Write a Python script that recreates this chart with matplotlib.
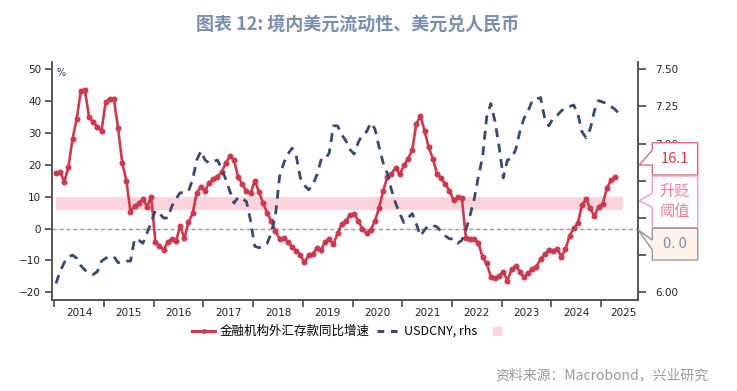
import numpy as np
import matplotlib
matplotlib.use("Agg")
import matplotlib.pyplot as plt
from matplotlib.patches import Polygon
from matplotlib.lines import Line2D

# 金融机构外汇存款同比增速 (%), 月度, 2014-01 起
fx_deposit_yoy = [
    17.6, 17.8, 14.7, 19.2, 28.2, 34.3, 43.2, 43.4, 34.9, 33.5, 31.8, 30.6,
    39.8, 40.8, 40.6, 31.5, 20.7, 15.1, 5.3, 7.1, 7.9, 9.3, 6.9, 10.0,
    -4.1, -5.5, -6.7, -4.1, -3.4, -3.9, 0.9, -3.0, 2.0, 4.8, 11.3, 13.1,
    11.9, 14.4, 15.6, 16.3, 17.8, 20.5, 22.8, 21.5, 16.1, 14.0, 11.7, 11.1,
    15.0, 11.6, 8.1, 4.8, 2.4, -0.6, -3.4, -3.0, -4.1, -5.7, -6.9, -8.3,
    -10.6, -8.3, -8.1, -6.0, -6.7, -4.1, -3.4, -4.9, -1.5, 1.4, 2.5, 4.3,
    4.6, 2.5, -0.2, -1.5, -0.4, 2.4, 6.4, 11.9, 16.1, 17.3, 19.0, 17.0,
    19.9, 21.9, 24.6, 32.8, 35.4, 30.7, 25.5, 22.0, 17.3, 15.8, 14.0, 11.9,
    9.0, 9.8, 9.5, -3.0, -3.2, -3.4, -4.4, -9.0, -10.9, -15.1, -15.6, -14.9,
    -13.5, -16.3, -12.8, -11.7, -13.5, -15.3, -13.8, -12.8, -11.9, -9.6, -8.0, -6.7,
    -6.9, -6.3, -8.8, -6.5, -2.3, 0.1, 1.7, 7.4, 9.2, 6.4, 3.9, 6.9,
    7.7, 12.6, 15.2, 16.1,
]

# USDCNY, 月度, 2014-01 起 (右轴)
usdcny = [
    6.06, 6.14, 6.20, 6.24, 6.25, 6.23, 6.18, 6.15, 6.13, 6.12, 6.14, 6.21,
    6.23, 6.24, 6.24, 6.20, 6.20, 6.21, 6.21, 6.36, 6.35, 6.33, 6.40, 6.47,
    6.55, 6.53, 6.50, 6.50, 6.58, 6.63, 6.67, 6.67, 6.68, 6.76, 6.89, 6.95,
    6.89, 6.87, 6.88, 6.89, 6.83, 6.76, 6.68, 6.60, 6.64, 6.63, 6.61, 6.48,
    6.31, 6.30, 6.31, 6.33, 6.40, 6.52, 6.78, 6.87, 6.93, 6.97, 6.92, 6.77,
    6.72, 6.69, 6.72, 6.79, 6.89, 6.89, 6.94, 7.12, 7.12, 7.06, 7.02, 6.96,
    6.93, 7.01, 7.06, 7.08, 7.14, 7.10, 6.98, 6.87, 6.80, 6.69, 6.60, 6.53,
    6.47, 6.50, 6.53, 6.46, 6.38, 6.42, 6.45, 6.45, 6.44, 6.41, 6.38, 6.36,
    6.36, 6.33, 6.35, 6.42, 6.52, 6.63, 6.78, 6.91, 7.18, 7.27, 7.15, 6.98,
    6.77, 6.89, 6.90, 6.96, 7.08, 7.17, 7.22, 7.29, 7.30, 7.31, 7.17, 7.12,
    7.17, 7.19, 7.22, 7.24, 7.25, 7.26, 7.20, 7.08, 7.04, 7.10, 7.22, 7.29,
    7.28, 7.27, 7.25, 7.23, 7.20, 7.19,
]

years = list(range(2014, 2026))
band_low, band_high = 6, 10   # 升贬阈值区间
right_ticks = [6.00, 6.25, 6.50, 6.75, 7.00, 7.25, 7.50]
right_labels = ['6.00', '', '', '', '7.00', '7.25', '7.50']  # 中间几个被标签框挡住

red = '#cc3a50'
navy = '#3b4a6b'
pink = '#fdd3dc'
cjk = ['Noto Sans CJK SC', 'DejaVu Sans']

W, H = 737, 391
fig = plt.figure(figsize=(W / 100, H / 100), dpi=100)
ax = fig.add_axes([52.3 / W, 1 - 300 / H, (638.3 - 52.3) / W, (300 - 62) / H])
ax2 = ax.twinx()

x_red = 2014 + (np.arange(len(fx_deposit_yoy)) + 0.4) / 12
x_usd = 2014 + (np.arange(len(usdcny)) + 0.4) / 12

ax.fill_between(x_usd, band_low, band_high, color=pink, lw=0, zorder=1)
ax.axhline(0, color='#999999', lw=1, ls=(0, (3, 2)), zorder=1.5)
ax.plot(x_red, fx_deposit_yoy, color=red, lw=1.9, marker='o', ms=3.3,
        zorder=3)
ax2.plot(x_usd, usdcny, color=navy, lw=2.0, ls=(0, (3.2, 2.4)), zorder=3)

# 坐标轴
ax.set_xlim(2013.96, 2025.75)
ax.set_ylim(-22.4, 52.3)
ax2.set_ylim(6 + (-22.4 + 20) * 1.5 / 70, 6 + (52.3 + 20) * 1.5 / 70)

ax.set_yticks(range(-20, 51, 10))
ax2.set_yticks(right_ticks)
ax2.set_yticklabels(right_labels)

ax.set_xticks(years)
ax.set_xticklabels([])
mids = [y + 0.5 for y in years[:-1]] + [(years[-1] + 2025.75) / 2 + 0.07]
ax.set_xticks(mids, minor=True)
ax.set_xticklabels([str(y) for y in years], minor=True)
ax.tick_params(axis='x', which='major', length=5, width=1.2, color='#444444',
               direction='out')
ax.tick_params(axis='x', which='minor', length=0, pad=6, labelsize=7.5,
               labelcolor='#222222')
ax.tick_params(axis='y', length=5, width=1.2, color='#444444', pad=3,
               labelsize=7.5, labelcolor='#222222')
ax2.tick_params(axis='y', length=6, width=1.2, color='#444444', pad=6,
                labelsize=7.5, labelcolor='#222222')

for a in (ax, ax2):
    a.spines['top'].set_visible(False)
    for s in ('left', 'right', 'bottom'):
        a.spines[s].set_color('#555555')
        a.spines[s].set_linewidth(1.2)

ax.text(0.008, 0.975, '%', transform=ax.transAxes, fontsize=7,
        color='#333366', va='top', ha='left')

# 标题与来源
fig.text(358 / W, 1 - 24 / H, '图表 12: 境内美元流动性、美元兑人民币',
         ha='center', va='center', fontsize=13, fontweight='bold',
         color='#7b8faa', family=cjk)
fig.text(708 / W, 1 - 375.5 / H, '资料来源：Macrobond，兴业研究',
         ha='right', va='center', fontsize=10, color='#9a9a9a', family=cjk)

# 图例
handles = [
    Line2D([], [], color=red, lw=2.2, marker='o', ms=2.5),
    Line2D([], [], color=navy, lw=2.2, ls=(0, (2.2, 2.2))),
    Line2D([], [], color=pink, lw=0, marker='s', ms=6),
]
labels = ['金融机构外汇存款同比增速', 'USDCNY, rhs', '']
fig.legend(handles, labels, loc='center', bbox_to_anchor=(352 / W, 1 - 331.5 / H),
           ncol=3, frameon=False, prop={'family': cjk, 'size': 9},
           handlelength=1.9, handletextpad=0.3, columnspacing=0.6)


# 右侧标签框
def px(x, y):
    return (x / W, 1 - y / H)


def callout(pts, face, edge, text, tcolor, ty, size):
    poly = Polygon([px(x, y) for x, y in pts], closed=True,
                   transform=fig.transFigure, facecolor=face, edgecolor=edge,
                   lw=1, zorder=5)
    fig.add_artist(poly)
    fig.text(675 / W, 1 - ty / H, text, ha='center', va='center',
             fontsize=size, color=tcolor, family=cjk, zorder=6,
             linespacing=1.25)


callout([(652.3, 142.7), (697.7, 142.7), (697.7, 175), (652.3, 175),
         (652.3, 165), (639.3, 165), (652.3, 150)],
        'white', '#e06a7c', f'{fx_deposit_yoy[-1]:.1f}', '#c83a52', 159, 10.5)
callout([(652.3, 176), (697.7, 176), (697.7, 227.7), (652.3, 227.7),
         (652.3, 207.3), (639.3, 200.7), (652.3, 193.3)],
        'white', '#f4a3b3', '升贬\n阈值', '#f07f98', 201, 11)
callout([(652.3, 228.3), (697.7, 228.3), (697.7, 260), (652.3, 260),
         (652.3, 250), (638.3, 230), (652.3, 240)],
        '#fdf3e9', '#9a9a9a', '0. 0', '#7f8fa0', 244, 10.5)

fig.savefig('out.png', dpi=100)
